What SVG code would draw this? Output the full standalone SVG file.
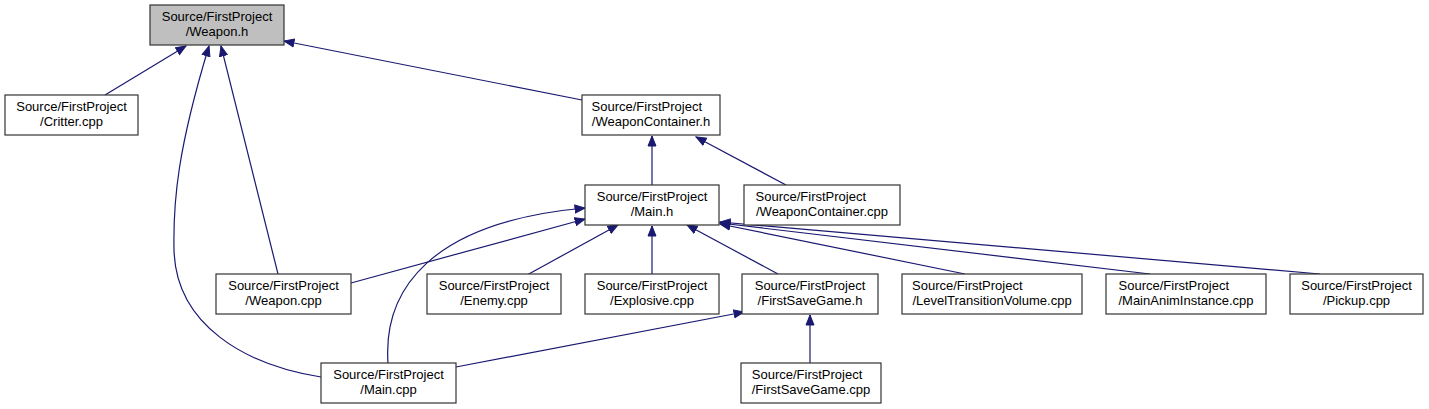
<svg xmlns="http://www.w3.org/2000/svg" width="1429" height="409" viewBox="0 0 1429 409">
<style>
.node rect{fill:#ffffff;stroke:#333333;stroke-width:1.2}
.node.cur rect{fill:#bfbfbf}
.t{font-family:"Liberation Sans",Arial,sans-serif;font-size:13px;fill:#000}
.m{text-anchor:middle}
.s{text-anchor:start}
.edges path{fill:none;stroke:#191970;stroke-width:1.2;marker-end:url(#ah)}
</style>
<defs>
<marker id="ah" markerUnits="userSpaceOnUse" markerWidth="12" markerHeight="10" viewBox="0 -5 11 10" refX="10" refY="0" orient="auto">
<path d="M0,-4 L10,0 L0,4 z" fill="#191970" stroke="#191970" stroke-width="1"/>
</marker>
</defs>
<rect width="1429" height="409" fill="#ffffff"/>
<g class="edges">
<path d="M105,95 L186,46"/>
<path d="M321,377 C245,365 176,325 174,250 C173,200 178,148 209,46"/>
<path d="M278,274 L221,46"/>
<path d="M582,100 L284,41"/>
<path d="M652,185 L652,136"/>
<path d="M786,185 L696,137"/>
<path d="M351,283 L585,219"/>
<path d="M388,363 C383,290 430,222 585,208"/>
<path d="M527,275 L618,225"/>
<path d="M652,274 L652,226"/>
<path d="M778,274 L687,225"/>
<path d="M965,274 L720,224"/>
<path d="M1150,274 L720,223"/>
<path d="M1320,274 L720,222"/>
<path d="M456,367 L744,312"/>
<path d="M810,363 L810,315"/>
</g>
<g id="weapon_h" class="node cur"><rect x="150" y="5" width="134" height="40"/><text class="t m" x="217" y="21">Source/FirstProject</text><text class="t m" x="217" y="36">/Weapon.h</text></g>
<g id="critter_cpp" class="node"><rect x="5" y="95" width="133" height="40"/><text class="t m" x="71.5" y="111">Source/FirstProject</text><text class="t m" x="71.5" y="126">/Critter.cpp</text></g>
<g id="weaponcontainer_h" class="node"><rect x="582" y="95" width="138" height="40"/><text class="t s" x="591.5" y="111">Source/FirstProject</text><text class="t m" x="651" y="126">/WeaponContainer.h</text></g>
<g id="main_h" class="node"><rect x="585" y="185" width="134" height="40"/><text class="t m" x="652" y="201">Source/FirstProject</text><text class="t m" x="652" y="216">/Main.h</text></g>
<g id="weaponcontainer_cpp" class="node"><rect x="744" y="185" width="156" height="40"/><text class="t s" x="755.5" y="201">Source/FirstProject</text><text class="t m" x="822" y="216">/WeaponContainer.cpp</text></g>
<g id="weapon_cpp" class="node"><rect x="216" y="274" width="135" height="40"/><text class="t m" x="283.5" y="290">Source/FirstProject</text><text class="t m" x="283.5" y="305">/Weapon.cpp</text></g>
<g id="enemy_cpp" class="node"><rect x="427" y="274" width="134" height="40"/><text class="t m" x="494" y="290">Source/FirstProject</text><text class="t m" x="494" y="305">/Enemy.cpp</text></g>
<g id="explosive_cpp" class="node"><rect x="585" y="274" width="134" height="40"/><text class="t m" x="652" y="290">Source/FirstProject</text><text class="t m" x="652" y="305">/Explosive.cpp</text></g>
<g id="firstsavegame_h" class="node"><rect x="742" y="274" width="136" height="40"/><text class="t m" x="810" y="290">Source/FirstProject</text><text class="t m" x="810" y="305">/FirstSaveGame.h</text></g>
<g id="leveltransitionvolume_cpp" class="node"><rect x="902" y="274" width="180" height="40"/><text class="t s" x="912" y="290">Source/FirstProject</text><text class="t m" x="992" y="305">/LevelTransitionVolume.cpp</text></g>
<g id="mainaniminstance_cpp" class="node"><rect x="1106" y="274" width="160" height="40"/><text class="t s" x="1118.5" y="290">Source/FirstProject</text><text class="t m" x="1186" y="305">/MainAnimInstance.cpp</text></g>
<g id="pickup_cpp" class="node"><rect x="1290" y="274" width="133" height="40"/><text class="t m" x="1356.5" y="290">Source/FirstProject</text><text class="t m" x="1356.5" y="305">/Pickup.cpp</text></g>
<g id="main_cpp" class="node"><rect x="321" y="363" width="135" height="40"/><text class="t m" x="388.5" y="379">Source/FirstProject</text><text class="t m" x="388.5" y="394">/Main.cpp</text></g>
<g id="firstsavegame_cpp" class="node"><rect x="741" y="363" width="140" height="40"/><text class="t s" x="751.75" y="379">Source/FirstProject</text><text class="t m" x="811" y="394">/FirstSaveGame.cpp</text></g>
</svg>
